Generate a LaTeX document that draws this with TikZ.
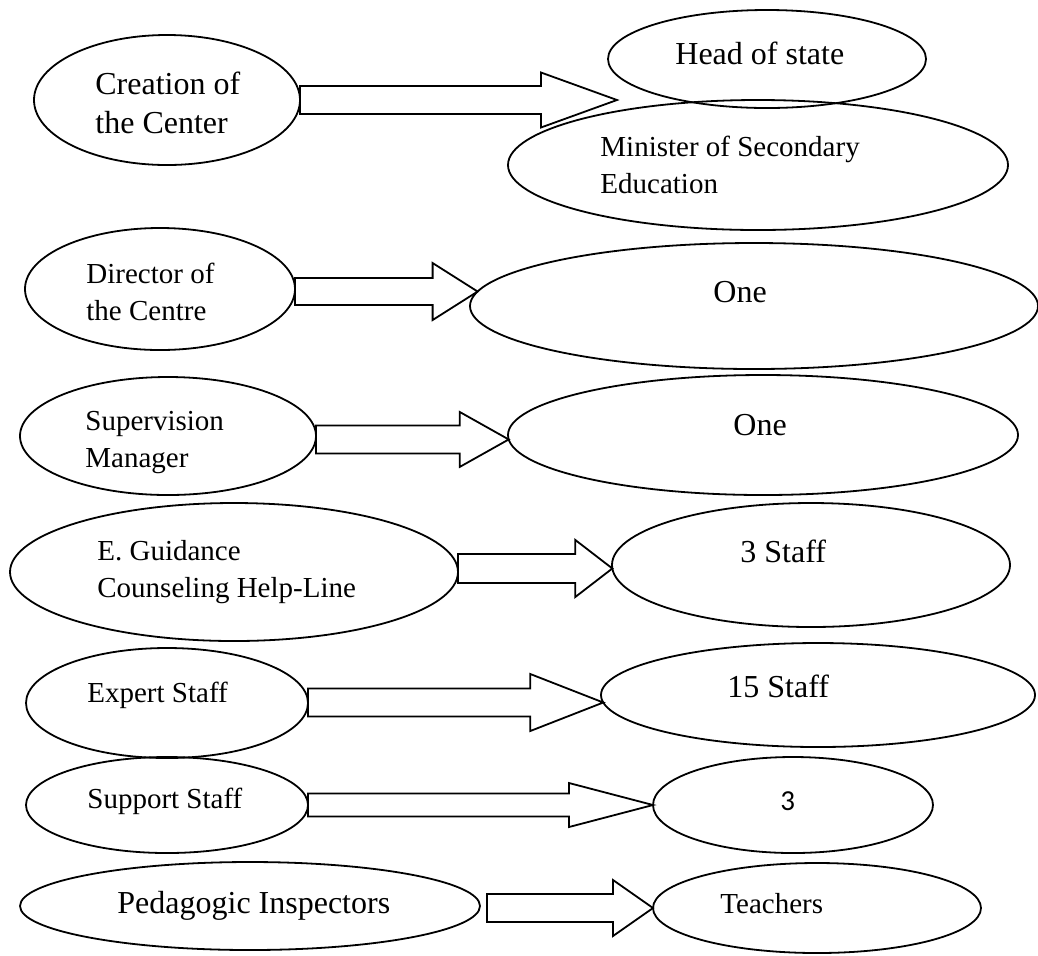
\documentclass[tikz,border=0pt]{standalone}
\usepackage{fontspec}
\setmainfont{Liberation Serif}
\newfontfamily\calibri{Carlito}
\usetikzlibrary{calc,shapes.geometric}
\tikzset{
  oval/.style={draw,ellipse,line width=0.9pt,inner sep=0pt,outer sep=0pt},
  bigtxt/.style={anchor=base west,inner sep=0pt,align=left,font=\fontsize{16}{19.5}\selectfont},
  smalltxt/.style={anchor=base west,inner sep=0pt,align=left,font=\fontsize{14.5}{18.5}\selectfont},
  blockarrow/.style={draw,line width=0.9pt,line join=miter}
}
\newcommand{\blockarrow}[5]{%
  \draw[blockarrow] ($(#1 |- #2)+(0,-#4)$) -- ($(#2)+(-#3,-#4)$) -- ($(#2)+(-#3,-#5)$)
    -- (#2) -- ($(#2)+(-#3,#5)$) -- ($(#2)+(-#3,#4)$) -- ($(#1 |- #2)+(0,#4)$) -- cycle;}
\begin{document}
\begin{tikzpicture}[x=0.5pt,y=-0.5pt]
	\useasboundingbox (0,0) rectangle (1038,955);

	\node[oval,minimum width=133pt,minimum height=65pt] (creation) at (167,100) {};
	\node[oval,minimum width=159pt,minimum height=49pt] (headstate) at (767,59) {};
	\node[oval,minimum width=250pt,minimum height=65pt] (minister) at (758,165) {};
	\node[oval,minimum width=135pt,minimum height=61pt] (director) at (160,289) {};
	\node[oval,minimum width=284pt,minimum height=63pt] (dirone) at (754,306) {};
	\node[oval,minimum width=148pt,minimum height=59pt] (supervision) at (168,436) {};
	\node[oval,minimum width=255pt,minimum height=60pt] (supone) at (763,435) {};
	\node[oval,minimum width=224pt,minimum height=69pt] (guidance) at (234,572) {};
	\node[oval,minimum width=199pt,minimum height=62pt] (guidstaff) at (811,565) {};
	\node[oval,minimum width=141pt,minimum height=55pt] (expert) at (167,703) {};
	\node[oval,minimum width=217pt,minimum height=52pt] (expstaff) at (818,695) {};
	\node[oval,minimum width=141pt,minimum height=48pt] (support) at (167,805) {};
	\node[oval,minimum width=140pt,minimum height=48pt] (suppthree) at (793,805) {};
	\node[oval,minimum width=230pt,minimum height=44pt] (pedagogic) at (250,906) {};
	\node[oval,minimum width=164pt,minimum height=45pt] (teachers) at (817,908) {};

	\node[bigtxt] (creationtxt) at (95,133) {Creation of\\the Center};
	\node[bigtxt] (headstatetxt) at (675,64) {Head of state};
	\node[smalltxt] (ministertxt) at (600,193) {Minister of Secondary\\Education};
	\node[smalltxt] (directortxt) at (86,320) {Director of\\the Centre};
	\node[bigtxt] (dironetxt) at (713,302) {One};
	\node[smalltxt] (supervisiontxt) at (85,467) {Supervision\\Manager};
	\node[bigtxt] (suponetxt) at (733,435) {One};
	\node[smalltxt] (guidancetxt) at (97,597) {E. Guidance\\Counseling Help-Line};
	\node[bigtxt] (guidstafftxt) at (740,562) {3 Staff};
	\node[smalltxt] (experttxt) at (87,702) {Expert Staff};
	\node[bigtxt] (expstafftxt) at (727,697) {15 Staff};
	\node[smalltxt] (supporttxt) at (87,808) {Support Staff};
	\node[smalltxt,font=\calibri\fontsize{14.5}{18.5}\selectfont] (suppthreetxt) at (780,810) {3};
	\node[bigtxt] (pedagogictxt) at (117,913) {Pedagogic Inspectors};
	\node[smalltxt] (teacherstxt) at (720,913) {Teachers};

	\coordinate (creationtip) at (617,100);
	\coordinate (pedagogictail) at ([xshift=3.5pt]pedagogic.east);

	\blockarrow{creation.east}{creationtip}{76}{14}{27.5}
	\blockarrow{director.east}{dirone.177.5}{45}{13.5}{28.5}
	\blockarrow{supervision.east}{supone.181.5}{49}{14}{27.5}
	\blockarrow{guidance.east}{guidstaff.181.2}{37}{14.5}{28.5}
	\blockarrow{expert.east}{expstaff.182.4}{73}{14}{28.5}
	\blockarrow{support.east}{suppthree.west}{84}{11.5}{22}
	\blockarrow{pedagogictail}{teachers.west}{40}{14}{28}
\end{tikzpicture}
\end{document}
